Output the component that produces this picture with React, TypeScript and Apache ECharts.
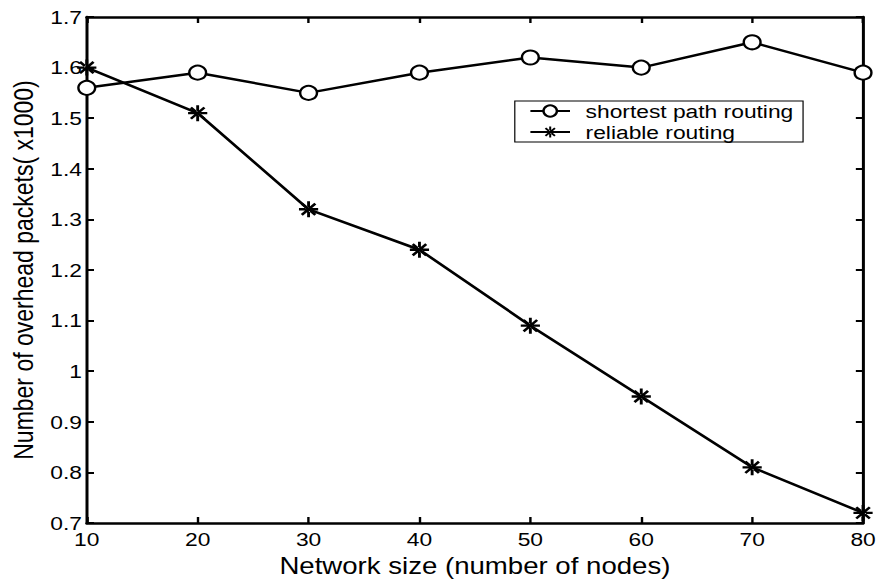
import React, { useEffect, useRef } from "react";
import * as echarts from "echarts";

// Network sizes (number of nodes)
const networkSizes = [10, 20, 30, 40, 50, 60, 70, 80];
// Overhead packets (x1000) per routing scheme
const shortestPath = [1.56, 1.59, 1.55, 1.59, 1.62, 1.6, 1.65, 1.59];
const reliable = [1.6, 1.51, 1.32, 1.24, 1.09, 0.95, 0.81, 0.72];

const seriesNames = ["shortest path routing", "reliable routing"];

// asterisk marker built from four filled bars
const ASTERISK =
  "path://M-10,-1.5 L10,-1.5 L10,1.5 L-10,1.5 Z " +
  "M-1.5,-10 L1.5,-10 L1.5,10 L-1.5,10 Z " +
  "M-8.1,-6 L6,8.1 L8.1,6 L-6,-8.1 Z " +
  "M-8.1,6 L6,-8.1 L8.1,-6 L-6,8.1 Z";

const FONT = "Liberation Sans, Arial, Helvetica, sans-serif";

// the figure is drawn in a narrower frame and stretched horizontally
const STRETCH = 1.2;
const PAGE_W = 882;
const PAGE_H = 583;

export default function App() {
  const ref = useRef<HTMLDivElement>(null);

  useEffect(() => {
    if (!ref.current) return;
    const chart = echarts.init(ref.current, null, { renderer: "svg" });

    const axisLine = { show: true, lineStyle: { color: "#000", width: 2.5 } };
    const tick = { show: true, inside: true, length: 6, lineStyle: { color: "#000", width: 2 } };
    const fmt = (v: number) => String(+v.toFixed(1));

    chart.setOption({
      animation: false,
      backgroundColor: "#fff",
      grid: { left: 69.2, right: 15.8, top: 17, bottom: 60 },
      legend: {
        orient: "vertical",
        left: 429,
        top: 101,
        padding: [0, 8, 0, 12],
        itemGap: 1,
        itemWidth: 33,
        itemHeight: 14,
        borderColor: "#000",
        borderWidth: 1,
        borderRadius: 0,
        textStyle: {
          fontFamily: FONT,
          fontSize: 19,
          lineHeight: 20,
          color: "#000",
          padding: [0, 0, 0, 8],
        },
        data: seriesNames,
      },
      xAxis: [
        {
          type: "value",
          min: 10,
          max: 80,
          interval: 10,
          name: "Network size (number of nodes)",
          nameLocation: "middle",
          nameGap: 27,
          nameTextStyle: { fontFamily: FONT, fontSize: 23, color: "#000" },
          axisLine,
          axisTick: tick,
          splitLine: { show: false },
          axisLabel: { fontFamily: FONT, fontSize: 19, color: "#000", margin: 7 },
        },
        {
          type: "value",
          position: "top",
          min: 10,
          max: 80,
          interval: 10,
          axisLine,
          axisTick: tick,
          splitLine: { show: false },
          axisLabel: { show: false },
        },
      ],
      yAxis: [
        {
          type: "value",
          min: 0.7,
          max: 1.7,
          interval: 0.1,
          name: "Number of overhead packets( x1000)",
          nameLocation: "middle",
          nameGap: 40,
          nameTextStyle: { fontFamily: FONT, fontSize: 23, color: "#000" },
          axisLine,
          axisTick: tick,
          splitLine: { show: false },
          axisLabel: { fontFamily: FONT, fontSize: 19, color: "#000", margin: 4, formatter: fmt },
        },
        {
          type: "value",
          position: "right",
          min: 0.7,
          max: 1.7,
          interval: 0.1,
          axisLine,
          axisTick: tick,
          splitLine: { show: false },
          axisLabel: { show: false },
        },
      ],
      series: [
        {
          name: seriesNames[0],
          type: "line",
          data: networkSizes.map((x, i) => [x, shortestPath[i]]),
          symbol: "emptyCircle",
          symbolSize: 14,
          lineStyle: { color: "#000", width: 2.5 },
          itemStyle: { color: "#000", borderColor: "#000", borderWidth: 2, opacity: 1 },
          z: 3,
        },
        {
          name: seriesNames[1],
          type: "line",
          data: networkSizes.map((x, i) => [x, reliable[i]]),
          symbol: ASTERISK,
          symbolSize: 16,
          lineStyle: { color: "#000", width: 2.5 },
          itemStyle: { color: "#000", borderWidth: 0 },
          z: 3,
        },
      ],
    });

    return () => chart.dispose();
  }, []);

  return (
    <div
      style={{
        position: "fixed",
        left: 0,
        top: 0,
        width: PAGE_W,
        height: PAGE_H,
        overflow: "hidden",
        background: "#fff",
      }}
    >
      <div
        ref={ref}
        style={{
          width: PAGE_W / STRETCH,
          height: PAGE_H,
          transform: `scaleX(${STRETCH})`,
          transformOrigin: "0 0",
        }}
      />
    </div>
  );
}
